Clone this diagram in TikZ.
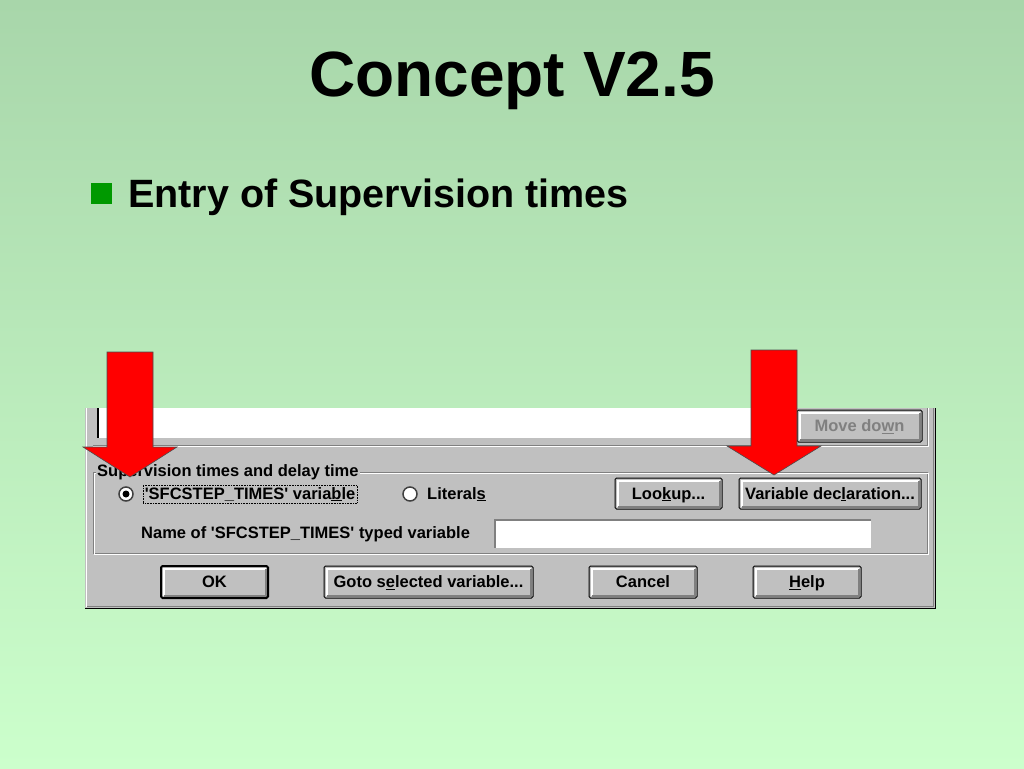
\documentclass[tikz,border=0pt]{standalone}
\usepackage{fontspec}
\setmainfont{Liberation Sans}
\definecolor{bgtop}{RGB}{168,214,170}
\definecolor{bgbot}{RGB}{204,255,204}
\definecolor{winface}{RGB}{192,192,192}
\definecolor{winshadow}{RGB}{128,128,128}
\definecolor{bulletgreen}{RGB}{0,153,0}
\newcommand{\ukey}[1]{\underline{#1}}
\newcommand{\sq}{\textquotesingle}
\begin{document}
\begin{tikzpicture}[x=1pt,y=-1pt,
  dlg/.style={font=\fontsize{16.5}{18}\selectfont\bfseries},
  lbl/.style={dlg,inner sep=0pt},
  btn/.style={dlg,draw=black,line width=1pt,rounded corners=1.5pt,fill=winface,inner sep=0pt,minimum height=32pt,
    text height=11.5pt,text depth=0pt,
    path picture={
      \draw[sharp corners,white,line width=2pt] ([shift={(2.5pt,2.5pt)}]path picture bounding box.south west) |- ([shift={(-2.5pt,-2.5pt)}]path picture bounding box.north east);
      \draw[sharp corners,winshadow,line width=2pt] ([shift={(2.5pt,2.5pt)}]path picture bounding box.south west) -| ([shift={(-2.5pt,-2.5pt)}]path picture bounding box.north east);}},
  default/.style={line width=2pt},
  sunken/.style={fill=white,inner sep=0pt,
    path picture={
      \draw[winshadow,line width=3pt] (path picture bounding box.south west) |- (path picture bounding box.north east);}},
  radio/.style={circle,draw=black!75,line width=1.5pt,fill=white,minimum size=14pt,inner sep=0pt},
  marker/.style={fill=red,draw=black!70,line width=0.6pt}]
\useasboundingbox (0,0) rectangle (1024,768);
\shade[top color=bgtop,bottom color=bgbot] (0,0) rectangle (1024,768);

% title and bullet
\node[font=\fontsize{64}{70}\selectfont\bfseries,anchor=base,inner sep=0pt] (title) at (512,96) {Concept V2.5};
\node[fill=bulletgreen,minimum size=21pt,inner sep=0pt] (bullet) at (101.5,193.5) {};
\node[font=\fontsize{39.5}{44}\selectfont\bfseries,anchor=base west,inner sep=0pt] (entry) at (128,207) {Entry of Supervision times};

% dialog body
\fill[winface] (85,408) rectangle (936,609);
\draw[white,line width=1pt] (86,408) -- (86,607);
\draw[winshadow,line width=1pt] (87,606.5) -- (933,606.5) -- (933,408);
\draw[black,line width=1.5pt] (85,608.5) -- (935.5,608.5) -- (935.5,408);

% list box and upper frame
\fill[white] (99,408) rectangle (793,438);
\draw[black,line width=1.5pt] (98,408) -- (98,438);
\draw[winshadow] (93,445) -- (927,445) -- (927,408);
\draw[white] (93,446.5) -- (928.5,446.5) -- (928.5,408);
\node[btn,minimum width=125pt,text=winshadow] (movedown) at (859.5,426) {Move do\ukey{w}n};

% group box
\draw[winshadow] (93,472) rectangle (927,553);
\draw[white] (94,473.5) rectangle (928.5,554.5);
\node[lbl,fill=winface,inner xsep=1pt,anchor=base west] (grouplbl) at (96,476) {Supervision times and delay time};

\node[radio] (rb1) at (126,494) {};
\fill[black] (rb1.center) circle (3.5pt);
\node[lbl,draw,densely dotted,line width=0.6pt,inner xsep=1.5pt,inner ysep=2pt,anchor=base west] (rb1txt) at (143,499) {\sq SFCSTEP\_TIMES\sq{} varia\ukey{b}le};
\node[radio] (rb2) at (410,494) {};
\node[lbl,anchor=base west] (rb2txt) at (427,499) {Literal\ukey{s}};

\node[btn,minimum width=107pt,minimum height=31pt] (lookup) at (668.5,493.5) {Loo\ukey{k}up...};
\node[btn,minimum width=182pt,minimum height=31pt] (vardecl) at (830,493.5) {Variable dec\ukey{l}aration...};

\node[lbl,anchor=base west] (namelbl) at (141,538) {Name of \sq SFCSTEP\_TIMES\sq{} typed variable};
\node[sunken,minimum width=377pt,minimum height=29pt] (namefield) at (682.5,533.5) {};

% bottom buttons
\node[btn,default,minimum width=107pt] (ok) at (214.5,582) {OK};
\node[btn,minimum width=209pt] (goto) at (428.5,582) {Goto s\ukey{e}lected variable...};
\node[btn,minimum width=108pt] (cancel) at (643,582) {Cancel};
\node[btn,minimum width=108pt] (help) at (807,582) {\ukey{H}elp};

% red arrows
\draw[marker] (107,352) -- (153,352) -- (153,447) -- (177,447) -- (130,477) -- (83,447) -- (107,447) -- cycle;
\draw[marker] (751,350) -- (797,350) -- (797,446) -- (821,446) -- (774,475) -- (727,446) -- (751,446) -- cycle;
\end{tikzpicture}
\end{document}
